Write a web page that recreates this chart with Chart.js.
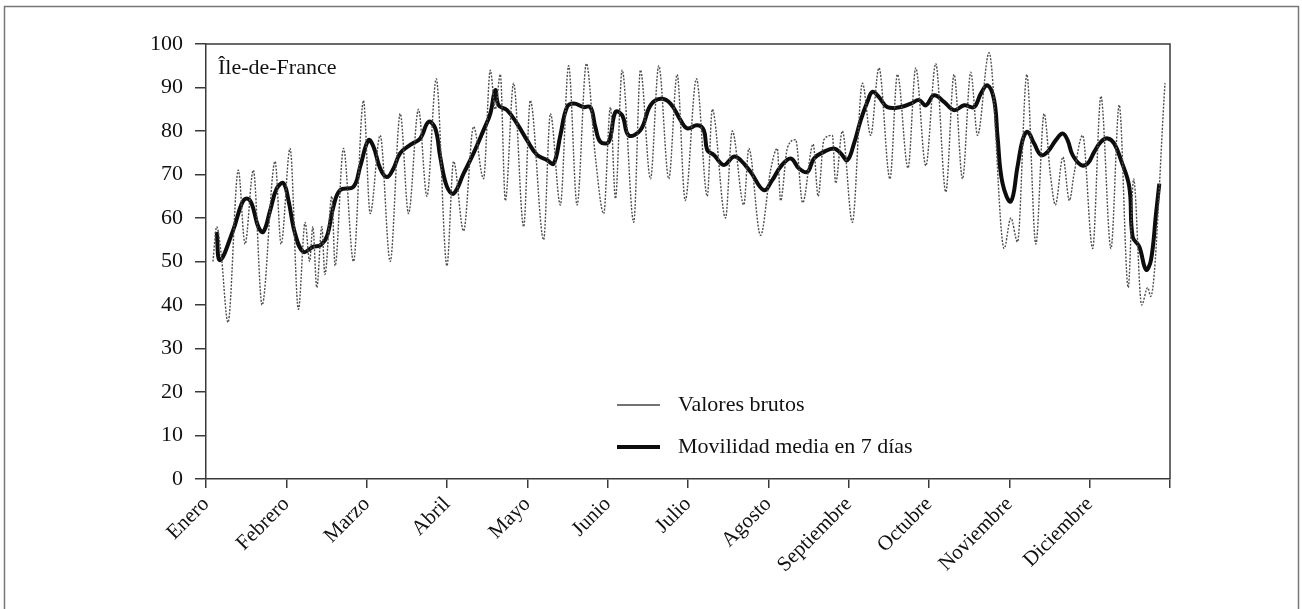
<!DOCTYPE html>
<html>
<head>
<meta charset="utf-8">
<script src="https://cdn.jsdelivr.net/npm/chart.js@4/dist/chart.umd.min.js"></script>
<style>
  html, body { margin: 0; padding: 0; background: #fff; }
  #wrap { width: 1302px; height: 609px; }
</style>
</head>
<body>
<div id="wrap"><canvas id="mobChart" width="1302" height="609"></canvas></div>
<script>
// Meses (eje x en unidades de mes, 0 = Enero)
const meses = ["Enero", "Febrero", "Marzo", "Abril", "Mayo", "Junio", "Julio",
  "Agosto", "Septiembre", "Octubre", "Noviembre", "Diciembre"];
const yTicks = [0, 10, 20, 30, 40, 50, 60, 70, 80, 90, 100];
const region = "Île-de-France";

// Valores brutos (picos y valles)
const brutosX = [0.087, 0.133, 0.187, 0.274, 0.402, 0.486, 0.589, 0.698, 0.860, 0.935,
  1.047, 1.150, 1.234, 1.290, 1.330, 1.379, 1.442, 1.480, 1.566, 1.607,
  1.711, 1.836, 1.960, 2.044, 2.168, 2.293, 2.418, 2.521, 2.645, 2.750,
  2.866, 2.999, 3.082, 3.206, 3.331, 3.455, 3.539, 3.601, 3.664, 3.726,
  3.829, 3.954, 4.037, 4.203, 4.287, 4.411, 4.514, 4.619, 4.735, 4.847,
  4.951, 5.034, 5.097, 5.180, 5.325, 5.408, 5.533, 5.636, 5.761, 5.865,
  5.965, 6.105, 6.240, 6.302, 6.467, 6.551, 6.695, 6.757, 6.903, 7.028,
  7.111, 7.153, 7.236, 7.340, 7.427, 7.558, 7.620, 7.692, 7.797, 7.838,
  7.921, 8.046, 8.171, 8.274, 8.377, 8.514, 8.607, 8.739, 8.835, 8.960,
  9.084, 9.209, 9.312, 9.417, 9.520, 9.604, 9.748, 9.935, 10.019, 10.102,
  10.218, 10.330, 10.433, 10.511, 10.573, 10.667, 10.748, 10.804, 10.912, 11.037,
  11.140, 11.265, 11.368, 11.480, 11.547, 11.647, 11.722, 11.760, 11.938];
const brutosY = [50, 58, 52, 36, 71, 54, 71, 40, 73, 54,
  76, 39, 59, 50, 58, 44, 58, 47, 65, 49,
  76, 50, 87, 61, 79, 50, 84, 61, 85, 65,
  92, 49, 73, 57, 81, 69, 94, 85, 93, 64,
  91, 58, 87, 55, 84, 63, 95, 63, 95.5, 74,
  61, 85.5, 64.5, 94, 59, 94, 69, 95, 69, 93,
  64, 92, 65, 85, 60, 80, 63, 76, 56, 71,
  76, 64, 76, 78, 63.5, 77, 65, 78, 79, 68,
  80, 59, 91, 79, 94.5, 69, 93, 71.5, 94.5, 72,
  95.5, 66, 93, 69, 93.5, 79, 98, 53, 60, 54.5,
  93, 54, 84, 70, 63, 74, 64, 70, 79, 53,
  88, 53, 86, 44, 69, 40, 44, 42, 91];

// Movilidad media en 7 días
const mediaX = [0.133, 0.174, 0.336, 0.445, 0.507, 0.569, 0.652, 0.714, 0.798, 0.881,
  0.963, 1.026, 1.109, 1.212, 1.337, 1.421, 1.504, 1.586, 1.670, 1.836,
  1.919, 2.022, 2.085, 2.168, 2.252, 2.334, 2.418, 2.542, 2.667, 2.770,
  2.854, 2.916, 2.999, 3.082, 3.206, 3.331, 3.455, 3.539, 3.601, 3.642,
  3.747, 3.872, 3.996, 4.121, 4.246, 4.328, 4.411, 4.494, 4.577, 4.701,
  4.785, 4.847, 4.910, 5.013, 5.097, 5.180, 5.262, 5.408, 5.533, 5.657,
  5.782, 5.907, 5.990, 6.115, 6.197, 6.240, 6.322, 6.446, 6.571, 6.654,
  6.779, 6.944, 7.049, 7.153, 7.278, 7.381, 7.486, 7.568, 7.692, 7.817,
  7.900, 7.984, 8.066, 8.150, 8.233, 8.295, 8.377, 8.482, 8.648, 8.773,
  8.876, 8.960, 9.063, 9.187, 9.312, 9.437, 9.561, 9.645, 9.728, 9.811,
  9.853, 9.915, 10.019, 10.102, 10.165, 10.227, 10.309, 10.393, 10.476, 10.579,
  10.663, 10.725, 10.787, 10.891, 10.974, 11.057, 11.140, 11.224, 11.306, 11.390,
  11.493, 11.535, 11.618, 11.701, 11.763, 11.826, 11.867];
const mediaY = [56.8, 50.3, 57.1, 63.3, 64.5, 63.3, 57.9, 56.8, 61.7, 66.8,
  68.0, 64.1, 56.4, 52.2, 53.4, 53.7, 55.7, 62.6, 66.4, 67.2,
  71.8, 77.9, 76.4, 71.4, 69.4, 71.4, 74.9, 76.8, 78.3, 82.1,
  80.6, 74.0, 67.2, 65.6, 70.2, 74.9, 80.2, 84.0, 89.4, 85.9,
  84.8, 81.7, 77.9, 74.5, 73.3, 72.5, 79.0, 85.5, 86.3, 85.5,
  85.5, 80.9, 77.5, 77.5, 84.4, 83.6, 79.0, 80.2, 85.9, 87.4,
  86.3, 82.5, 80.6, 81.3, 80.2, 75.6, 74.5, 72.2, 74.1, 73.3,
  70.6, 66.4, 68.7, 71.8, 73.7, 71.4, 70.6, 73.7, 75.2, 76.0,
  74.9, 73.3, 77.1, 82.5, 86.7, 89.0, 87.8, 85.5, 85.5, 86.3,
  87.1, 85.9, 88.2, 86.7, 84.8, 85.9, 85.5, 88.6, 90.5, 87.1,
  78.7, 68.0, 63.8, 71.8, 77.9, 79.8, 77.1, 74.5, 75.2, 77.9,
  79.4, 77.9, 74.5, 72.2, 72.5, 75.2, 77.5, 78.3, 77.1, 73.3,
  67.2, 55.7, 53.4, 48.1, 50.3, 61.0, 67.9];

const FONT = "'Liberation Serif', 'Times New Roman', serif";
const AXIS_COLOR = "#3a3a3a";
const TEXT_COLOR = "#111";

// recuadro del gráfico, título y leyenda
const decoPlugin = {
  id: "deco",
  beforeDraw(chart) {
    const ctx = chart.ctx;
    ctx.save();
    ctx.fillStyle = "#fff";
    ctx.fillRect(0, 0, chart.width, chart.height);
    ctx.strokeStyle = "#777";
    ctx.lineWidth = 1.5;
    ctx.strokeRect(4.5, 6.5, 1294, 620);
    ctx.restore();
  },
  afterDraw(chart) {
    const ctx = chart.ctx;
    const a = chart.chartArea;
    ctx.save();
    ctx.strokeStyle = AXIS_COLOR;
    ctx.lineWidth = 1.5;
    ctx.beginPath();
    ctx.moveTo(a.left, a.top);
    ctx.lineTo(a.right, a.top);
    ctx.lineTo(a.right, a.bottom);
    ctx.stroke();

    ctx.fillStyle = TEXT_COLOR;
    ctx.font = "22px " + FONT;
    ctx.textBaseline = "middle";
    ctx.fillText(region, a.left + 12, a.top + 24);

    const items = chart.data.datasets;
    const rows = [405, 447];
    items.forEach((ds, i) => {
      ctx.strokeStyle = i === 0 ? "#444" : ds.borderColor;
      ctx.lineWidth = ds.borderWidth;
      ctx.setLineDash([]);
      ctx.beginPath();
      ctx.moveTo(617, rows[i]);
      ctx.lineTo(660, rows[i]);
      ctx.stroke();
      ctx.fillText(ds.label, 678, rows[i]);
    });
    ctx.restore();
  }
};

new Chart(document.getElementById("mobChart"), {
  type: "line",
  data: {
    datasets: [
      {
        label: "Valores brutos",
        data: brutosX.map((x, i) => ({ x: x, y: brutosY[i] })),
        borderColor: "#4d4d4d",
        borderWidth: 1.4,
        borderDash: [2, 1.5],
        pointRadius: 0,
        cubicInterpolationMode: "monotone",
        fill: false
      },
      {
        label: "Movilidad media en 7 días",
        data: mediaX.map((x, i) => ({ x: x, y: mediaY[i] })),
        borderColor: "#0d0d0d",
        borderWidth: 4,
        pointRadius: 0,
        tension: 0.4,
        fill: false
      }
    ]
  },
  options: {
    responsive: false,
    animation: false,
    layout: { padding: { left: 0, top: 44, right: 132, bottom: 0 } },
    plugins: {
      legend: { display: false },
      tooltip: { enabled: false }
    },
    scales: {
      x: {
        type: "linear",
        min: 0,
        max: 12,
        afterFit: (s) => { s.height = 130; },
        grid: { drawOnChartArea: false, color: AXIS_COLOR, tickLength: 9, lineWidth: 1.5 },
        border: { color: AXIS_COLOR, width: 1.5 },
        ticks: {
          stepSize: 1,
          autoSkip: false,
          maxRotation: 45,
          minRotation: 45,
          padding: 4,
          color: TEXT_COLOR,
          font: { family: FONT, size: 21 },
          callback: (v) => meses[v] || ""
        }
      },
      y: {
        min: 0,
        max: 100,
        afterFit: (s) => { s.width = 206; },
        afterBuildTicks: (s) => { s.ticks = yTicks.map((v) => ({ value: v })); },
        grid: { drawOnChartArea: false, color: AXIS_COLOR, tickLength: 11, lineWidth: 1.5 },
        border: { color: AXIS_COLOR, width: 1.5 },
        ticks: {
          padding: 12,
          color: TEXT_COLOR,
          font: { family: FONT, size: 22 }
        }
      }
    }
  },
  plugins: [decoPlugin]
});
</script>
</body>
</html>
